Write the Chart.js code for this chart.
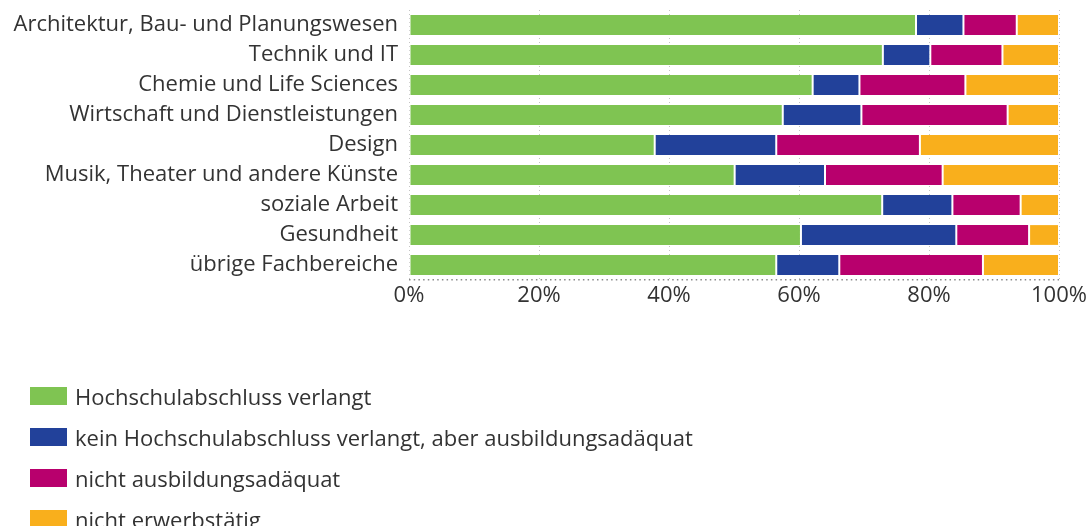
<!DOCTYPE html>
<html>
<head>
<meta charset="utf-8">
<script src="https://cdn.jsdelivr.net/npm/chart.js@4/dist/chart.umd.min.js"></script>
<style>
    html, body { margin: 0; padding: 0; background: #fff; }
    #wrap { position: relative; width: 1087px; height: 526px; }
    #legend { position: absolute; left: 30px; top: 383px; font-family: 'Open Sans', sans-serif; font-size: 22px; color: #333; }
    .item { height: 41px; display: flex; align-items: flex-start; white-space: nowrap; }
    .box { width: 37px; height: 18px; margin-top: 4px; margin-right: 8px; }
    .item span { line-height: 26px; }
</style>
</head>
<body>
<div id="wrap">
    <canvas id="chart" width="1087" height="526"></canvas>
    <div id="legend"></div>
</div>
<script>
const categories = [
    'Architektur, Bau- und Planungswesen',
    'Technik und IT',
    'Chemie und Life Sciences',
    'Wirtschaft und Dienstleistungen',
    'Design',
    'Musik, Theater und andere Künste',
    'soziale Arbeit',
    'Gesundheit',
    'übrige Fachbereiche'
];

const seriesNames = [
    'Hochschulabschluss verlangt',
    'kein Hochschulabschluss verlangt, aber ausbildungsadäquat',
    'nicht ausbildungsadäquat',
    'nicht erwerbstätig'
];

const abschlussVerlangt = [78.0, 72.9, 62.1, 57.5, 37.8, 50.1, 72.8, 60.3, 56.5];
const adaequat          = [7.3, 7.3, 7.2, 12.1, 18.7, 13.9, 10.8, 23.9, 9.7];
const nichtAdaequat     = [8.2, 11.1, 16.3, 22.5, 22.1, 18.1, 10.5, 11.2, 22.1];
const nichtErwerbstaetig = [6.5, 8.7, 14.4, 7.9, 21.4, 17.9, 5.9, 4.6, 11.7];

const tickValues = [0, 20, 40, 60, 80, 100];

const colors = ['#7fc452', '#22419a', '#b8006d', '#f9af1c'];
const seriesData = [abschlussVerlangt, adaequat, nichtAdaequat, nichtErwerbstaetig];

const font = { family: "'Open Sans', sans-serif", size: 22 };

const chart = new Chart(document.getElementById('chart'), {
    type: 'bar',
    data: {
        labels: categories,
        datasets: seriesData.map((d, i) => ({
            label: seriesNames[i],
            data: d,
            backgroundColor: colors[i],
            borderColor: '#ffffff',
            borderWidth: { left: 1, right: 1, top: 0, bottom: 0 },
            borderSkipped: false,
            categoryPercentage: 1,
            barPercentage: 0.66
        }))
    },
    options: {
        indexAxis: 'y',
        responsive: false,
        animation: false,
        layout: {
            padding: { top: 10, right: 28, bottom: 206, left: 0 }
        },
        plugins: {
            legend: { display: false },
            tooltip: { enabled: false }
        },
        scales: {
            x: {
                stacked: true,
                min: 0,
                max: 100,
                afterBuildTicks: scale => {
                    scale.ticks = tickValues.map(v => ({ value: v }));
                },
                afterFit: scale => {
                    scale.height = 40;
                    scale.paddingLeft = 0;
                    scale.paddingRight = 0;
                },
                ticks: {
                    font: font,
                    color: '#333',
                    padding: 3,
                    callback: v => v + '%'
                },
                grid: {
                    color: '#c4c4c4',
                    drawTicks: false
                },
                // in v4 the dash here is applied to the grid lines
                border: {
                    display: false,
                    dash: [1, 3]
                }
            },
            y: {
                stacked: true,
                afterFit: scale => {
                    scale.width = 409;
                    scale.paddingTop = 0;
                    scale.paddingBottom = 0;
                },
                ticks: {
                    font: font,
                    color: '#333',
                    padding: 11
                },
                // only the last (bottom) grid line gets the scale context -> dotted baseline
                grid: {
                    drawTicks: false,
                    lineWidth: 1.5,
                    color: ctx => ctx.type === 'tick' ? 'rgba(0,0,0,0)' : '#8a8a8a'
                },
                border: { display: false, dash: [1.5, 3.2] }
            }
        }
    }
});

const legend = document.getElementById('legend');
chart.data.datasets.forEach(ds => {
    const item = document.createElement('div');
    item.className = 'item';
    const box = document.createElement('div');
    box.className = 'box';
    box.style.background = ds.backgroundColor;
    const text = document.createElement('span');
    text.textContent = ds.label;
    item.appendChild(box);
    item.appendChild(text);
    legend.appendChild(item);
});
</script>
</body>
</html>
